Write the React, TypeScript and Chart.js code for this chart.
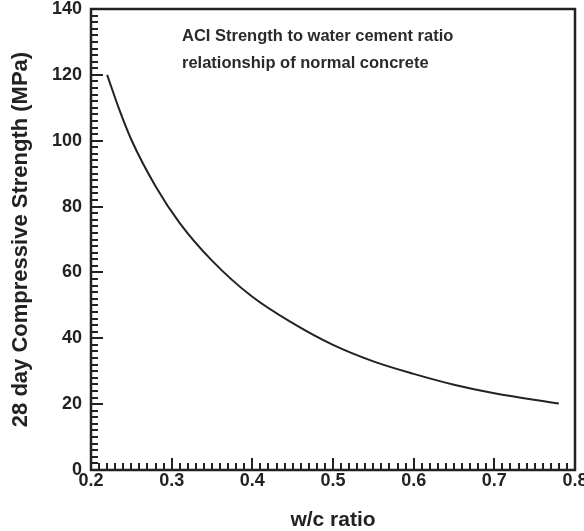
import React, { useEffect, useRef } from "react";
import { Chart, registerables } from "chart.js";

Chart.register(...registerables);

const wcRatio = [0.22, 0.235, 0.25, 0.28, 0.31, 0.35, 0.4, 0.45, 0.5, 0.55, 0.6, 0.65, 0.7, 0.78];
const strength = [120, 109.5, 100.3, 86.2, 75, 63.6, 52.6, 44.6, 38, 33, 29.2, 25.9, 23.3, 20.2];
const xTickValues = [0.2, 0.3, 0.4, 0.5, 0.6, 0.7, 0.8];
const yTickValues = [0, 20, 40, 60, 80, 100, 120, 140];
const annotationLines = ["ACI Strength to water cement ratio", "relationship of normal concrete"];
const xTitle = "w/c ratio";
const yTitle = "28 day Compressive Strength (MPa)";

const INK = "#222222";
const FONT = "'Liberation Sans', Arial, Helvetica, sans-serif";

const frameTicksPlugin = {
  id: "frameTicks",
  afterDraw(chart: any) {
    const { ctx, chartArea } = chart;
    const xs = chart.scales.x;
    const ys = chart.scales.y;
    const { left, right, top, bottom } = chartArea;
    ctx.save();
    ctx.strokeStyle = INK;
    ctx.lineWidth = 2;
    for (let i = 0; i <= 70; i++) {
      const v = i * 2;
      const py = Math.round(ys.getPixelForValue(v));
      const len = v % 20 === 0 ? 12 : 7;
      ctx.beginPath();
      ctx.moveTo(left, py);
      ctx.lineTo(left + len, py);
      ctx.stroke();
    }
    for (let i = 0; i <= 60; i++) {
      const v = 0.2 + i * 0.01;
      const px = Math.round(xs.getPixelForValue(v));
      const len = i % 10 === 0 ? 12 : 7;
      ctx.beginPath();
      ctx.moveTo(px, bottom);
      ctx.lineTo(px, bottom - len);
      ctx.stroke();
    }
    ctx.lineWidth = 2.5;
    ctx.strokeRect(left, top, right - left, bottom - top);
    ctx.fillStyle = "#2a2a2a";
    ctx.font = `bold 16.5px ${FONT}`;
    ctx.textAlign = "left";
    ctx.textBaseline = "middle";
    const ax = xs.getPixelForValue(0.2) + 91;
    annotationLines.forEach((t, i) => {
      ctx.fillText(t, ax, top + 27 + i * 27);
    });
    ctx.restore();
  },
};

export default function App() {
  const canvasRef = useRef<HTMLCanvasElement | null>(null);

  useEffect(() => {
    const canvas = canvasRef.current;
    if (!canvas) return;
    const chart = new Chart(canvas, {
      type: "line",
      data: {
        datasets: [
          {
            data: wcRatio.map((x, i) => ({ x, y: strength[i] })),
            borderColor: INK,
            borderWidth: 2,
            pointRadius: 0,
            fill: false,
            cubicInterpolationMode: "monotone",
          },
        ],
      },
      options: {
        responsive: true,
        maintainAspectRatio: false,
        animation: false,
        layout: { padding: { top: 9, right: 9, left: 0, bottom: 0 } },
        plugins: {
          legend: { display: false },
          tooltip: { enabled: false },
        },
        scales: {
          x: {
            type: "linear",
            min: 0.2,
            max: 0.8,
            afterBuildTicks: (scale: any) => {
              scale.ticks = xTickValues.map((v) => ({ value: v }));
            },
            afterFit: (scale: any) => {
              scale.height = 61;
              scale.paddingLeft = 0;
              scale.paddingRight = 0;
            },
            grid: { display: false, drawTicks: false },
            border: { display: false },
            ticks: {
              padding: 0,
              color: INK,
              maxRotation: 0,
              autoSkip: false,
              font: { family: FONT, size: 18, weight: "bold" },
              callback: (v: any) => Number(v).toFixed(1),
            },
            title: {
              display: true,
              text: xTitle,
              color: INK,
              padding: { top: 0, bottom: -2 },
              font: { family: FONT, size: 21, weight: "bold" },
            },
          },
          y: {
            type: "linear",
            min: 0,
            max: 140,
            afterBuildTicks: (scale: any) => {
              scale.ticks = yTickValues.map((v) => ({ value: v }));
            },
            afterFit: (scale: any) => {
              scale.width = 91;
              scale.paddingTop = 0;
              scale.paddingBottom = 0;
            },
            grid: { display: false, drawTicks: false },
            border: { display: false },
            ticks: {
              padding: 9,
              color: INK,
              autoSkip: false,
              font: { family: FONT, size: 18, weight: "bold" },
            },
            title: {
              display: true,
              text: yTitle,
              color: INK,
              padding: { top: 8, bottom: 0 },
              font: { family: FONT, size: 22, weight: "bold" },
            },
          },
        },
      },
      plugins: [frameTicksPlugin],
    } as any);
    return () => chart.destroy();
  }, []);

  return (
    <div style={{ position: "fixed", left: 0, top: 0, width: 584, height: 531, background: "#fff" }}>
      <canvas ref={canvasRef} />
    </div>
  );
}
